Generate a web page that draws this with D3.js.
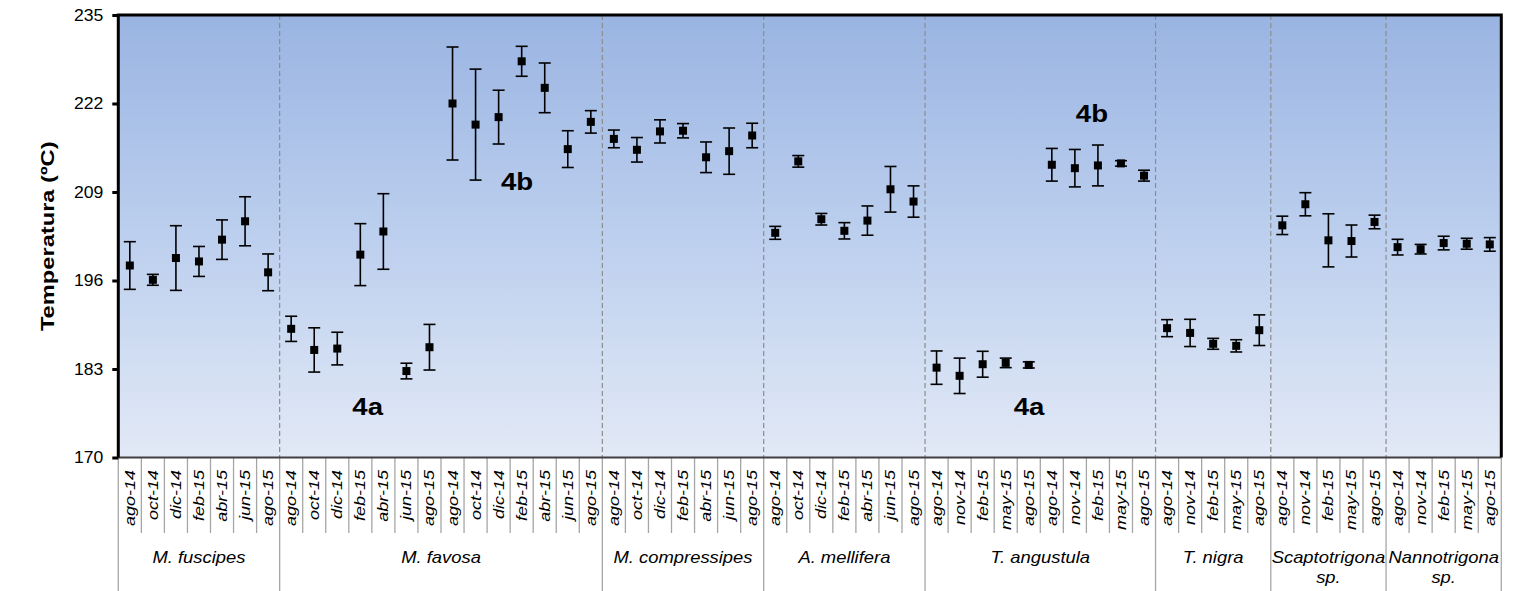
<!DOCTYPE html>
<html>
<head>
<meta charset="utf-8">
<script src="https://cdn.jsdelivr.net/npm/d3@7"></script>
<style>
  html, body { margin: 0; padding: 0; background: #fff; }
  svg { display: block; }
  text { font-family: "Liberation Sans", Arial, sans-serif; }
</style>
</head>
<body>
<svg id="chart" width="1520" height="591"></svg>
<script>
// Species groups and the number of sampling dates in each
const groupNames = ["M. fuscipes", "M. favosa", "M. compressipes", "A. mellifera",
                    "T. angustula", "T. nigra", "Scaptotrigona|sp.", "Nannotrigona|sp."];
const groupSizes = [7, 14, 7, 7, 10, 5, 5, 5];

// Sampling dates (x categories)
const months = [
  "ago-14","oct-14","dic-14","feb-15","abr-15","jun-15","ago-15",
  "ago-14","oct-14","dic-14","feb-15","abr-15","jun-15","ago-15",
  "ago-14","oct-14","dic-14","feb-15","abr-15","jun-15","ago-15",
  "ago-14","oct-14","dic-14","feb-15","abr-15","jun-15","ago-15",
  "ago-14","oct-14","dic-14","feb-15","abr-15","jun-15","ago-15",
  "ago-14","nov-14","feb-15","may-15","ago-15",
  "ago-14","nov-14","feb-15","may-15","ago-15",
  "ago-14","nov-14","feb-15","may-15","ago-15",
  "ago-14","nov-14","feb-15","may-15","ago-15",
  "ago-14","nov-14","feb-15","may-15","ago-15"
];

// Mean temperature (ºC) per sample
const means = [
  198.2, 196.1, 199.3, 198.8, 202.0, 204.7, 197.2,
  188.9, 185.8, 186.0, 199.8, 203.2, 182.7, 186.2,
  222.0, 218.9, 220.0, 228.2, 224.3, 215.3, 219.3,
  216.8, 215.2, 217.9, 218.0, 214.1, 215.0, 217.3,
  203.0, 213.5, 205.0, 203.3, 204.8, 209.4, 207.6,
  183.2, 182.0, 183.7, 183.9, 183.6,
  213.0, 212.5, 212.9, 213.2, 211.4,
  189.0, 188.3, 186.7, 186.4, 188.7,
  204.1, 207.2, 201.9, 201.8, 204.6,
  200.9, 200.6, 201.5, 201.4, 201.3
];

// Standard deviation (error bar half-length) per sample
const errors = [
  3.5, 0.8, 4.75, 2.2, 2.9, 3.6, 2.7,
  1.85, 3.25, 2.4, 4.55, 5.55, 1.15, 3.35,
  8.3, 8.15, 3.95, 2.2, 3.65, 2.7, 1.65,
  1.3, 1.8, 1.7, 1.05, 2.25, 3.4, 1.8,
  0.95, 0.85, 0.85, 1.2, 2.15, 3.35, 2.3,
  2.45, 2.6, 1.9, 0.7, 0.45,
  2.4, 2.75, 3.0, 0.4, 0.8,
  1.25, 2.0, 0.8, 0.9, 2.25,
  1.35, 1.7, 3.9, 2.35, 1.0,
  1.15, 0.7, 1.0, 0.8, 1.0
];

// Y axis ticks
const yTicks = [170, 183, 196, 209, 222, 235];

// Peak annotations: label, position along the category axis, temperature
const noteLabels = ["4a", "4b", "4a", "4b"];
const notePos    = [10.82, 17.3, 39.51, 42.24];
const noteTemp   = [177.5, 210.5, 177.5, 220.6];

const svg = d3.select("#chart");
const plotL = 118.3, plotR = 1501.3, plotT = 15, plotB = 457.5;

const x = d3.scaleLinear().domain([0, months.length]).range([plotL, plotR]);
const y = d3.scaleLinear().domain([170, 235]).range([plotB, plotT]);

// Background gradient of the plot area
const defs = svg.append("defs");
const grad = defs.append("linearGradient").attr("id", "bg")
  .attr("x1", 0).attr("y1", 0).attr("x2", 0).attr("y2", 1);
grad.append("stop").attr("offset", "0%").attr("stop-color", "#9ab4e2");
grad.append("stop").attr("offset", "50%").attr("stop-color", "#bccfee");
grad.append("stop").attr("offset", "100%").attr("stop-color", "#e2e9f6");

svg.append("rect")
  .attr("x", plotL).attr("y", plotT)
  .attr("width", plotR - plotL).attr("height", plotB - plotT)
  .attr("fill", "url(#bg)");

// Group boundaries (cumulative counts)
const bounds = [0];
groupSizes.forEach(n => bounds.push(bounds[bounds.length - 1] + n));

// Dashed separators between species inside the plot
svg.append("g").selectAll("line")
  .data(bounds.slice(1, -1))
  .join("line")
  .attr("x1", d => x(d)).attr("x2", d => x(d))
  .attr("y1", plotT).attr("y2", plotB)
  .attr("stroke", "#8c8c8c").attr("stroke-width", 1.2)
  .attr("stroke-dasharray", "5,3");

// Category separators under the axis
svg.append("g").selectAll("line")
  .data(d3.range(months.length + 1))
  .join("line")
  .attr("x1", d => x(d)).attr("x2", d => x(d))
  .attr("y1", plotB)
  .attr("y2", d => bounds.includes(d) ? 591 : 533)
  .attr("stroke", "#a6a6a6").attr("stroke-width", 1.3);

// Bottom axis line
svg.append("line")
  .attr("x1", plotL).attr("x2", plotR)
  .attr("y1", plotB).attr("y2", plotB)
  .attr("stroke", "#404040").attr("stroke-width", 2);

// Month labels (rotated)
svg.append("g").selectAll("text")
  .data(months)
  .join("text")
  .attr("transform", (d, i) => `translate(${x(i + 0.5) + 5},470) rotate(-90) scale(1.2,1)`)
  .attr("text-anchor", "end")
  .attr("font-size", 15)
  .attr("font-style", "italic")
  .attr("fill", "#000")
  .text(d => d);

// Species labels
const gl = svg.append("g").selectAll("text")
  .data(groupNames)
  .join("text")
  .attr("transform", (d, i) => `translate(${x((bounds[i] + bounds[i + 1]) / 2)},563) scale(1.15,1)`)
  .attr("text-anchor", "middle")
  .attr("font-size", 16)
  .attr("font-style", "italic")
  .attr("fill", "#000");
gl.each(function (d) {
  const parts = d.split("|");
  const t = d3.select(this);
  parts.forEach((p, k) => {
    t.append("tspan").attr("x", 0).attr("dy", k === 0 ? 0 : 20).text(p);
  });
});

// Y axis
const yAxis = d3.axisLeft(y).tickValues(yTicks).tickSize(6).tickPadding(9);
const yg = svg.append("g").attr("transform", `translate(${plotL},0)`).call(yAxis);
yg.select(".domain").remove();
yg.selectAll(".tick line").attr("stroke", "#000").attr("stroke-width", 3);
yg.selectAll(".tick text")
  .attr("font-size", 16)
  .attr("font-family", "Liberation Sans, Arial, sans-serif")
  .attr("fill", "#000")
  .attr("transform", "scale(1.1,1)")
  .attr("x", -15 / 1.1);

// Frame: thick left, top and right edges
svg.append("path")
  .attr("d", `M${plotL},${plotB} L${plotL},${plotT} L${plotR},${plotT} L${plotR},${plotB}`)
  .attr("fill", "none").attr("stroke", "#000").attr("stroke-width", 3);

// Y axis title
svg.append("text")
  .attr("transform", `translate(54,${(plotT + plotB) / 2}) rotate(-90) scale(1.28,1)`)
  .attr("text-anchor", "middle")
  .attr("font-size", 18.5)
  .attr("font-weight", "bold")
  .attr("fill", "#000")
  .text("Temperatura (ºC)");

// Error bars
const capW = 6;
const eb = svg.append("g").attr("stroke", "#000").attr("stroke-width", 1.6);
means.forEach((m, i) => {
  const cx = x(i + 0.5);
  const y0 = y(m - errors[i]), y1 = y(m + errors[i]);
  eb.append("line").attr("x1", cx).attr("x2", cx).attr("y1", y0).attr("y2", y1);
  eb.append("line").attr("x1", cx - capW).attr("x2", cx + capW).attr("y1", y0).attr("y2", y0);
  eb.append("line").attr("x1", cx - capW).attr("x2", cx + capW).attr("y1", y1).attr("y2", y1);
});

// Mean markers
svg.append("g").selectAll("rect")
  .data(means)
  .join("rect")
  .attr("x", (d, i) => x(i + 0.5) - 4)
  .attr("y", d => y(d) - 4)
  .attr("width", 8).attr("height", 8)
  .attr("fill", "#000");

// Annotations
svg.append("g").selectAll("text")
  .data(noteLabels)
  .join("text")
  .attr("transform", (d, i) => `translate(${x(notePos[i])},${y(noteTemp[i])}) scale(1.15,1)`)
  .attr("text-anchor", "middle")
  .attr("dy", "0.36em")
  .attr("font-size", 24)
  .attr("font-weight", "bold")
  .attr("fill", "#000")
  .text(d => d);
</script>
</body>
</html>
